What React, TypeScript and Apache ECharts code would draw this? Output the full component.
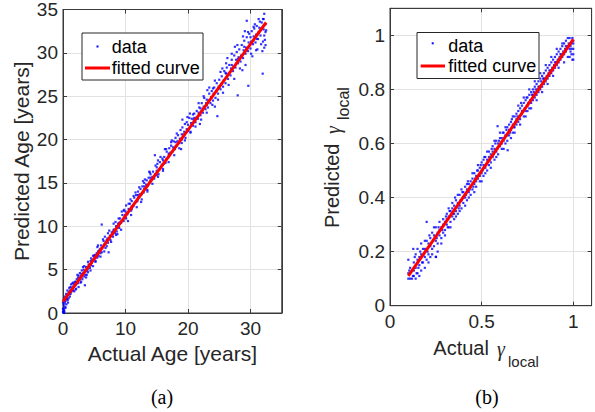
import React, { useEffect, useRef } from "react";
import * as echarts from "echarts";

// ---------- Panel (a): age ----------
const ageTicksX = [0, 10, 20, 30];
const ageTicksY = [0, 5, 10, 15, 20, 25, 30, 35];
const ageData: number[][] = [
  [0.05,0.2],[0.1,0.9],[0.1,0.4],[0.15,1.6],[0.2,0.1],[0.25,1.1],[0.3,1.9],[0.35,0.7],[0.4,1.4],[0.5,2.2],
  [0.55,1.0],[0.6,1.8],[0.7,2.6],[0.75,1.5],[0.8,2.1],[0.9,1.7],[1.0,2.9],[1.05,2.3],[1.1,1.9],[1.2,3.0],
  [1.3,2.4],[1.4,2.9],[1.5,3.4],[1.6,2.6],[1.7,3.1],[1.8,2.5],[1.9,3.6],[2.0,3.2],[2.1,2.8],[2.2,3.9],
  [2.3,3.4],[2.4,4.1],[2.5,3.0],[2.6,3.8],[2.7,4.6],[2.8,3.5],[2.9,4.3],[3.0,4.9],[3.1,3.9],[3.2,4.6],
  [3.3,5.0],[3.4,4.2],[3.5,3.2],[3.6,4.8],[3.7,5.3],[3.8,4.4],[3.9,5.1],[4.0,4.7],[4.1,5.6],[4.3,5.2],
  [4.4,6.0],[4.5,5.5],[4.7,6.1],[4.8,5.4],[5.0,6.3],[5.1,6.7],[5.2,5.9],[5.4,6.9],[5.5,6.4],[5.7,6.6],
  [5.8,7.2],[6.0,6.9],[6.1,7.8],[6.2,7.0],[6.2,10.2],[6.4,7.6],[6.5,8.3],[6.6,7.1],[6.8,8.0],[7.0,7.7],
  [7.1,8.6],[7.2,8.1],[7.3,7.0],[7.5,8.9],[7.6,8.4],[7.8,9.3],[8.0,8.8],[8.1,9.6],[8.3,9.2],[8.5,10.0],
  [8.6,9.4],[8.7,9.1],[8.8,10.3],[9.0,9.8],[9.1,10.9],[9.3,10.4],[9.5,11.3],[9.7,10.6],[9.8,11.9],[10.0,11.0],
  [10.1,12.4],[10.2,11.5],[10.4,10.6],[10.5,12.0],[10.7,12.6],[10.9,11.8],[11.0,12.9],[11.2,12.3],[11.4,13.3],[11.5,12.7],
  [11.7,13.6],[11.9,12.9],[12.0,14.0],[12.2,13.4],[12.4,14.3],[12.5,12.8],[12.7,14.6],[12.9,13.9],[13.0,15.0],[13.2,14.3],
  [13.4,15.3],[13.5,14.0],[13.7,15.6],[13.9,15.1],[14.0,16.0],[14.2,15.4],[14.4,16.3],[14.6,15.5],[14.7,18.2],[15.0,16.4],
  [15.1,17.2],[15.3,16.0],[15.5,17.4],[15.7,16.8],[15.9,17.8],[16.0,16.6],[16.2,18.0],[16.4,17.3],[16.6,18.6],[16.8,17.9],
  [17.0,19.0],[17.1,18.2],[17.3,19.3],[17.5,18.6],[17.7,19.8],[17.9,18.9],[18.0,20.2],[18.2,19.3],[18.4,20.5],[18.6,19.6],
  [18.8,21.1],[19.0,20.0],[19.1,22.3],[19.3,20.6],[19.5,21.8],[19.6,20.2],[19.8,22.0],[20.0,21.0],[20.2,22.5],[20.4,20.8],
  [20.6,22.4],[20.8,21.6],[21.0,23.0],[21.2,22.0],[21.4,23.3],[21.6,22.4],[21.8,23.7],[22.0,22.8],[22.2,24.2],[22.4,23.1],
  [22.6,24.8],[22.8,23.5],[23.0,24.6],[23.2,23.7],[23.4,25.3],[23.6,24.2],[23.8,25.6],[24.0,24.5],[24.2,26.0],[24.4,24.8],
  [24.6,26.5],[24.7,22.7],[24.8,25.3],[25.0,26.9],[25.2,25.8],[25.4,27.3],[25.6,26.1],[25.8,27.9],[26.0,26.5],[26.2,28.3],
  [26.4,27.0],[26.6,28.6],[26.8,27.4],[27.0,29.2],[27.2,27.9],[27.4,29.7],[27.6,28.3],[27.8,30.1],[27.95,25.1],[28.0,28.8],
  [28.2,30.4],[28.4,29.0],[28.6,30.9],[28.8,29.4],[29.0,31.4],[29.2,29.9],[29.4,31.8],[29.4,33.7],[29.65,26.2],[29.6,30.2],
  [29.8,32.2],[30.0,30.5],[30.2,32.5],[30.4,31.0],[30.6,32.8],[30.8,31.2],[31.0,33.1],[31.2,31.6],[31.4,32.9],[31.6,32.0],
  [31.8,33.5],[31.95,27.6],[32.0,31.3],[32.1,33.9],[32.2,30.6],[32.2,34.5],[32.4,32.4],[32.4,30.9],
  [0.3,1.3],[0.6,1.6],[0.9,2.4],[1.2,2.2],[1.5,2.6],[1.8,3.3],[2.1,3.6],[2.4,3.5],[2.7,3.9],[3.0,4.2],
  [3.3,4.5],[3.6,4.4],[3.9,4.9],[4.2,5.5],[4.6,5.8],[4.9,6.2],[5.3,6.4],[5.6,7.1],[5.9,7.3],[6.2,7.5],
  [6.6,7.9],[6.9,8.2],[7.2,8.4],[7.6,8.9],[7.9,9.0],[8.2,9.6],[8.6,10.0],[8.9,10.0],[9.2,10.5],[9.6,10.8],
  [9.9,11.3],[10.3,11.4],[10.6,11.9],[11.0,12.3],[11.3,12.4],[11.7,12.8],[12.0,13.3],[12.3,13.7],[12.6,13.7],[13.0,14.3],
  [13.3,14.8],[13.6,14.7],[14.0,15.3],[14.3,15.7],[14.7,16.0],[15.0,15.9],[15.4,16.5],[15.8,17.1],[16.1,17.2],[16.5,17.7],
  [16.9,18.3],[17.2,18.5],[17.6,19.1],[18.0,19.2],[18.3,19.8],[18.7,20.1],[19.0,20.6],[19.4,20.9],[19.8,21.2],[20.1,21.2],
  [20.5,21.9],[20.9,22.3],[21.3,22.5],[21.7,23.1],[22.1,23.2],[22.5,23.8],[22.9,24.2],[23.3,24.5],[23.7,24.9],[24.1,25.3],
  [24.5,25.6],[24.9,26.1],[25.3,26.4],[25.7,26.8],[26.1,27.6],[26.5,27.6],[26.9,28.2],[27.3,28.4],[27.7,29.2],[28.1,29.5],
  [28.5,29.7],[28.9,30.3],[29.3,30.6],[29.7,31.2],[30.1,31.3],[30.5,31.9],[30.9,32.1],[31.3,32.4],[31.7,32.8],[32.1,32.7],
  [32.4,33.3],[26.3,29.4],[27.5,30.7],[28.7,28.0],[29.1,32.5],[30.3,29.6],[30.7,33.3],[31.1,30.4],[31.5,33.6],[31.9,30.2],
  [32.2,32.0],[25.5,28.2],[24.3,23.8],[23.1,25.7],[21.9,21.8],[20.3,23.0],[18.9,18.9],[17.4,19.9],[16.3,18.9],[15.2,17.6],
  [13.8,16.3],[12.8,15.2],[11.6,13.9],[10.8,13.1],[9.4,11.7],[8.4,10.5],[7.4,9.5],[6.7,8.8],[5.5,7.6],[4.5,6.3],
  [3.4,5.4],[2.3,4.4],[1.3,3.3],[0.5,1.7],[0.2,0.3],[0.1,0.5],[0.05,0.1],[0.15,0.0],
  [0.4,0.6],[0.8,1.2],[1.1,2.6],[1.6,3.5],[2.0,2.7],[2.5,4.3],[2.9,3.6],[3.2,5.3],[3.7,4.1],[4.0,5.9],
  [4.4,4.9],[4.8,6.6],[5.2,6.0],[5.6,7.8],[6.0,6.5],[6.4,8.5],[6.8,7.5],[7.2,9.2],[7.7,8.2],[8.1,10.3],
  [8.5,9.0],[8.9,10.9],[9.3,9.6],[9.7,11.8],[10.1,10.9],[10.5,12.6],[10.9,11.3],[11.3,13.5],[11.8,12.2],[12.2,14.5],
  [12.6,13.1],[13.1,15.4],[13.5,14.2],[13.9,16.2],[14.3,14.9],[14.8,17.0],[15.2,15.7],[15.6,18.0],[16.0,16.4],[16.5,18.9],
  [16.9,17.4],[17.3,19.7],[17.8,18.2],[18.2,20.7],[18.6,19.0],[19.1,21.4],[19.5,19.9],[19.9,22.6],[20.4,20.9],[20.8,22.9],
  [21.2,21.5],[21.7,24.2],[22.1,22.3],[22.5,25.0],[23.0,23.1],[23.4,26.0],[23.9,24.0],[24.3,26.8],[24.8,24.6],[25.2,27.8],
  [25.6,25.4],[26.1,28.8],[26.5,26.3],[27.0,29.9],[27.4,27.0],[27.9,30.9],[28.3,28.2],[28.8,31.9],[29.2,28.6],[29.6,32.4],
  [30.1,29.9],[30.5,33.0],[30.9,30.3],[31.3,33.9],[31.7,31.0],[32.0,33.9],[32.3,31.5],[32.5,32.6],[31.0,31.6],[30.0,31.8],
  [29.0,30.7],[28.0,29.3],[27.0,28.6],[26.0,27.7],[25.0,26.0],[24.0,25.9],[23.0,24.0],[22.0,23.6],[21.0,22.5],[20.0,21.7],
  [19.0,19.6],[18.0,19.7],[17.0,18.4],[16.0,17.6],[15.0,16.8],[14.0,15.6],[13.0,14.6],[12.0,13.6],[11.0,12.0],[10.0,11.7],
  [9.0,10.4],[8.0,9.4],[7.0,8.4],[6.0,7.4],[5.0,6.6],[4.0,5.3],[3.0,4.5],[2.0,3.5],[1.0,2.2],[0.0,1.2],[0.0,0.5],[0.0,0.1]
];
const ageFit: number[][] = [[0, 1.3], [32.5, 33.5]];

// ---------- Panel (b): gamma_local ----------
const gamTicksX = [0, 0.5, 1];
const gamTicksY = [0, 0.2, 0.4, 0.6, 0.8, 1];
const gamData: number[][] = [
  [0.10,0.10],[0.10,0.12],[0.10,0.17],[0.11,0.10],[0.11,0.14],[0.12,0.10],[0.12,0.13],[0.127,0.21],[0.13,0.11],[0.13,0.16],
  [0.14,0.10],[0.14,0.14],[0.14,0.19],[0.15,0.12],[0.15,0.17],[0.15,0.21],[0.16,0.11],[0.16,0.15],[0.17,0.13],[0.17,0.19],
  [0.17,0.23],[0.18,0.16],[0.18,0.21],[0.19,0.14],[0.19,0.18],[0.19,0.24],[0.20,0.17],[0.20,0.21],[0.20,0.31],[0.21,0.19],
  [0.21,0.23],[0.22,0.18],[0.22,0.25],[0.23,0.21],[0.23,0.27],[0.24,0.22],[0.24,0.26],[0.25,0.18],[0.25,0.24],[0.25,0.29],
  [0.26,0.23],[0.26,0.27],[0.27,0.26],[0.27,0.31],[0.28,0.25],[0.28,0.29],[0.29,0.27],[0.29,0.32],[0.30,0.28],[0.30,0.31],
  [0.31,0.30],[0.31,0.34],[0.32,0.29],[0.32,0.33],[0.33,0.31],[0.33,0.35],[0.34,0.33],[0.34,0.36],[0.35,0.32],[0.35,0.37],
  [0.36,0.35],[0.36,0.39],[0.37,0.34],[0.37,0.38],[0.38,0.37],[0.38,0.41],[0.39,0.36],[0.39,0.39],[0.40,0.38],[0.40,0.42],
  [0.41,0.40],[0.41,0.44],[0.42,0.39],[0.42,0.43],[0.43,0.42],[0.43,0.45],[0.44,0.41],[0.44,0.46],[0.45,0.43],[0.45,0.47],
  [0.46,0.45],[0.46,0.49],[0.47,0.44],[0.47,0.48],[0.48,0.47],[0.48,0.50],[0.49,0.46],[0.49,0.51],[0.50,0.49],[0.50,0.53],
  [0.51,0.48],[0.51,0.52],[0.52,0.51],[0.52,0.55],[0.53,0.50],[0.53,0.54],[0.54,0.52],[0.54,0.57],[0.55,0.53],[0.55,0.56],
  [0.56,0.55],[0.56,0.59],[0.57,0.54],[0.57,0.58],[0.58,0.57],[0.58,0.61],[0.59,0.56],[0.587,0.664],[0.60,0.59],[0.60,0.62],
  [0.61,0.58],[0.61,0.62],[0.62,0.61],[0.62,0.64],[0.63,0.60],[0.63,0.63],[0.642,0.575],[0.64,0.63],[0.64,0.66],[0.65,0.63],
  [0.65,0.67],[0.66,0.65],[0.66,0.68],[0.67,0.64],[0.67,0.67],[0.68,0.66],[0.68,0.70],[0.69,0.67],[0.69,0.71],[0.70,0.68],
  [0.70,0.72],[0.71,0.69],[0.71,0.73],[0.72,0.71],[0.72,0.74],[0.73,0.70],[0.73,0.75],[0.74,0.72],[0.74,0.76],[0.75,0.74],
  [0.75,0.77],[0.76,0.73],[0.76,0.78],[0.77,0.75],[0.77,0.79],[0.78,0.76],[0.78,0.80],[0.79,0.77],[0.79,0.81],[0.80,0.78],
  [0.80,0.82],[0.81,0.79],[0.81,0.83],[0.82,0.80],[0.82,0.84],[0.83,0.81],[0.83,0.85],[0.84,0.82],[0.84,0.86],[0.85,0.83],
  [0.85,0.87],[0.86,0.84],[0.86,0.88],[0.87,0.85],[0.87,0.89],[0.88,0.86],[0.88,0.90],[0.89,0.87],[0.89,0.91],[0.90,0.88],
  [0.90,0.92],[0.91,0.89],[0.91,0.93],[0.92,0.90],[0.92,0.94],[0.93,0.91],[0.93,0.95],[0.94,0.92],[0.94,0.96],[0.95,0.93],
  [0.95,0.97],[0.96,0.94],[0.96,0.98],[0.97,0.92],[0.97,0.96],[0.98,0.95],[0.98,0.99],[0.99,0.93],[0.99,0.97],[1.00,0.91],
  [1.00,0.95],[1.00,0.98],
  [0.105,0.13],[0.125,0.11],[0.135,0.18],[0.155,0.14],[0.165,0.20],[0.185,0.19],[0.205,0.20],[0.215,0.26],[0.235,0.24],[0.251,0.181],
  [0.265,0.29],[0.285,0.28],[0.305,0.33],[0.315,0.29],[0.325,0.35],[0.345,0.34],[0.355,0.40],[0.375,0.36],[0.385,0.39],[0.395,0.42],
  [0.415,0.41],[0.425,0.46],[0.435,0.43],[0.455,0.44],[0.465,0.47],[0.475,0.50],[0.485,0.48],[0.495,0.52],[0.505,0.50],[0.515,0.55],
  [0.525,0.52],[0.545,0.54],[0.555,0.58],[0.565,0.56],[0.575,0.60],[0.585,0.58],[0.595,0.61],[0.605,0.60],[0.615,0.64],[0.625,0.62],
  [0.635,0.65],[0.655,0.64],[0.665,0.69],[0.675,0.66],[0.685,0.68],[0.695,0.70],[0.705,0.70],[0.715,0.75],[0.725,0.72],[0.735,0.73],
  [0.745,0.77],[0.755,0.75],[0.765,0.76],[0.775,0.78],[0.785,0.79],[0.795,0.80],[0.805,0.80],[0.815,0.81],[0.825,0.83],[0.835,0.84],
  [0.845,0.84],[0.855,0.85],[0.865,0.86],[0.875,0.87],[0.885,0.88],[0.895,0.89],[0.905,0.90],[0.915,0.91],[0.925,0.92],[0.935,0.93],
  [0.945,0.94],[0.955,0.95],[0.965,0.95],[0.975,0.97],[0.985,0.96],[0.995,0.99],
  [0.11,0.12],[0.13,0.13],[0.145,0.12],[0.16,0.18],[0.175,0.16],[0.19,0.21],[0.2,0.24],[0.21,0.16],[0.22,0.22],[0.23,0.19],
  [0.24,0.29],[0.255,0.25],[0.26,0.20],[0.27,0.28],[0.28,0.23],[0.29,0.30],[0.30,0.26],[0.31,0.32],[0.32,0.36],[0.33,0.29],
  [0.34,0.38],[0.35,0.34],[0.36,0.33],[0.37,0.41],[0.38,0.35],[0.39,0.43],[0.40,0.40],[0.41,0.37],[0.42,0.45],[0.43,0.40],
  [0.44,0.44],[0.45,0.49],[0.46,0.42],[0.47,0.46],[0.48,0.52],[0.49,0.48],[0.50,0.46],[0.51,0.54],[0.52,0.49],[0.53,0.57],
  [0.54,0.55],[0.55,0.51],[0.56,0.57],[0.57,0.61],[0.58,0.55],[0.59,0.60],[0.60,0.64],[0.61,0.60],[0.62,0.58],[0.63,0.66],
  [0.64,0.61],[0.65,0.65],[0.66,0.62],[0.67,0.70],[0.68,0.64],[0.69,0.69],[0.70,0.74],[0.71,0.67],[0.72,0.72],[0.73,0.77],
  [0.74,0.70],[0.75,0.72],[0.76,0.80],[0.77,0.73],[0.78,0.78],[0.79,0.83],[0.80,0.76],[0.81,0.81],[0.82,0.86],[0.83,0.79],
  [0.84,0.84],[0.85,0.89],[0.86,0.82],[0.87,0.87],[0.88,0.92],[0.89,0.85],[0.90,0.90],[0.91,0.95],[0.92,0.88],[0.93,0.93],
  [0.94,0.97],[0.95,0.90],[0.96,0.96],[0.97,0.99],[0.98,0.92],[0.99,0.95],[1.0,0.93],[1.0,0.97],[0.995,0.91],[0.985,0.94]
];
const gamFit: number[][] = [[0.1, 0.11], [1.0, 0.985]];

const legendLabels = ["data", "fitted curve"];
const captions = ["(a)", "(b)"];

const SANS = "Liberation Sans";
const SERIF = "Liberation Serif";
const INK = "#262626";
const BOX = "#3a3a3a";
const GRID = "#e2e2e2";

function axisPair(gridIndex: number, min: number, max: number, interval: number, ticks: number[], isX: boolean, name?: string, nameGap?: number) {
  const main: any = {
    type: "value",
    gridIndex,
    min,
    max,
    interval,
    position: isX ? "bottom" : "left",
    axisLine: { show: true, onZero: false, lineStyle: { color: BOX, width: 1 } },
    axisTick: { show: true, inside: true, length: 4, lineStyle: { color: BOX } },
    axisLabel: {
      show: true,
      showMaxLabel: ticks.indexOf(max) >= 0,
      margin: isX ? 6 : 5,
      fontFamily: SANS,
      fontSize: 19,
      color: INK,
      formatter: (v: number) => (ticks.some((t) => Math.abs(t - v) < 1e-9) ? String(v) : ""),
    },
    splitLine: { show: true, lineStyle: { color: GRID, width: 1 } },
  };
  if (name) {
    main.name = name;
    main.nameLocation = "middle";
    main.nameGap = nameGap;
    main.nameTextStyle = { fontFamily: SANS, fontSize: 21, color: INK };
  }
  const mirror: any = {
    type: "value",
    gridIndex,
    min,
    max,
    interval,
    position: isX ? "top" : "right",
    axisLine: { show: true, onZero: false, lineStyle: { color: BOX, width: 1 } },
    axisTick: { show: true, inside: true, length: 4, lineStyle: { color: BOX } },
    axisLabel: { show: false },
    splitLine: { show: false },
  };
  return [main, mirror];
}

function txt(text: string, x: number, y: number, size: number, family: string, opts: any = {}) {
  return {
    type: "text",
    x,
    y,
    z: opts.z ?? 50,
    style: {
      text,
      fontSize: size,
      fontFamily: family,
      fontStyle: opts.italic ? "italic" : "normal",
      fill: opts.fill ?? INK,
      verticalAlign: "middle",
      align: opts.align ?? "left",
    },
  };
}

export default function App() {
  const ref = useRef<HTMLDivElement>(null);
  useEffect(() => {
    document.body.style.margin = "0";
    if (!ref.current) return;
    const chart = echarts.init(ref.current, null, { renderer: "svg" });

    const xAxes = [
      ...axisPair(0, 0, 35, 10, ageTicksX, true, "Actual Age [years]", 30),
      ...axisPair(1, 0, 1.1, 0.5, gamTicksX, true),
    ];
    const yAxes = [
      ...axisPair(0, 0, 35, 5, ageTicksY, false, "Predicted Age [years]", 31),
      ...axisPair(1, 0, 1.1, 0.2, gamTicksY, false),
    ];

    const legendGraphic = (bx: number, by: number, bw: number, bh: number, dotX: number, dotY: number, lx0: number, lx1: number, ly: number, tx: number, ty0: number, ty1: number) => [
      { type: "rect", shape: { x: bx, y: by, width: bw, height: bh }, style: { fill: "#fff", stroke: INK, lineWidth: 1 }, z: 100 },
      { type: "rect", shape: { x: dotX - 1, y: dotY - 1, width: 2, height: 2 }, style: { fill: "#0000ff" }, z: 101 },
      txt(legendLabels[0], tx, ty0, 18, SANS, { fill: "#000", z: 101 }),
      { type: "line", shape: { x1: lx0, y1: ly, x2: lx1, y2: ly }, style: { stroke: "#ff0000", lineWidth: 3 }, z: 101 },
      txt(legendLabels[1], tx, ty1, 18, SANS, { fill: "#000", z: 101 }),
    ];

    const option: any = {
      animation: false,
      backgroundColor: "#fff",
      grid: [
        { left: 63, top: 8, width: 218.75, height: 305, show: true, borderColor: BOX, borderWidth: 1, backgroundColor: "#fff" },
        { left: 390, top: 8.3, width: 201.6, height: 297.4, show: true, borderColor: BOX, borderWidth: 1, backgroundColor: "#fff" },
      ],
      xAxis: xAxes,
      yAxis: yAxes,
      series: [
        { type: "scatter", xAxisIndex: 0, yAxisIndex: 0, data: ageData, symbol: "rect", symbolSize: 2.2, itemStyle: { color: "#0000ff" }, z: 2 },
        { type: "line", xAxisIndex: 0, yAxisIndex: 0, data: ageFit, showSymbol: false, symbol: "none", lineStyle: { color: "#ff0000", width: 3 }, z: 3 },
        { type: "scatter", xAxisIndex: 2, yAxisIndex: 2, data: gamData, symbol: "rect", symbolSize: 2.2, itemStyle: { color: "#0000ff" }, z: 2 },
        { type: "line", xAxisIndex: 2, yAxisIndex: 2, data: gamFit, showSymbol: false, symbol: "none", lineStyle: { color: "#ff0000", width: 3 }, z: 3 },
      ],
      graphic: [
        ...legendGraphic(82, 33, 121, 47, 97.5, 46.5, 85, 110, 68, 111.7, 47, 67.7),
        ...legendGraphic(417, 32.5, 122, 46, 432.7, 43.3, 420.7, 445, 66, 448.3, 46.4, 66.4),
        // right x-axis title: Actual γ_local
        txt("Actual", 433.3, 348, 20, SANS),
        txt("γ", 497, 349, 20, SERIF, { italic: true }),
        txt("local", 508, 361.4, 15, SANS),
        // right y-axis title: Predicted γ_local (rotated)
        {
          type: "group",
          x: 339,
          y: 228,
          rotation: Math.PI / 2,
          children: [
            txt("Predicted", 0, -7, 20, SANS),
            txt("γ", 94, -6, 20, SERIF, { italic: true }),
            txt("local", 108, 4.5, 16, SANS),
          ],
        },
        // captions
        txt(captions[0], 162, 397, 20, SERIF, { fill: "#000", align: "center" }),
        txt(captions[1], 487, 397, 20, SERIF, { fill: "#000", align: "center" }),
      ],
    };
    chart.setOption(option);
    return () => chart.dispose();
  }, []);
  return <div ref={ref} style={{ width: 595, height: 412 }} />;
}
